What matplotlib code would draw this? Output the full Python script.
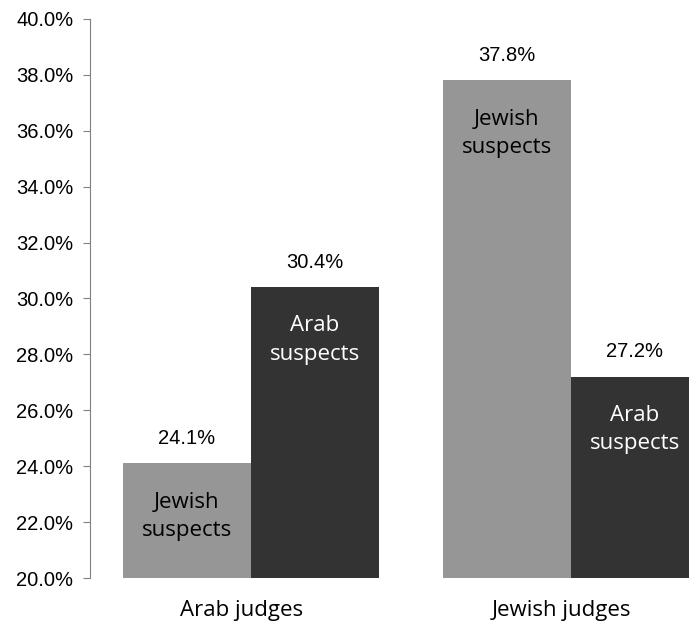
import matplotlib.pyplot as plt
import numpy as np

groups = ['Arab judges', 'Jewish judges']
jewish_suspects = [24.1, 37.8]
arab_suspects = [30.4, 27.2]
series_names = ['Jewish\nsuspects', 'Arab\nsuspects']
yticks = [20, 22, 24, 26, 28, 30, 32, 34, 36, 38, 40]

fig = plt.figure(figsize=(6.89, 6.35), dpi=100)
ax = fig.add_axes([90/689, 57/635, 599/689, 559/635])

x = np.arange(len(groups))
w = 0.4
b1 = ax.bar(x - w/2, np.array(jewish_suspects) - 20, w, bottom=20, color='#969696')
b2 = ax.bar(x + w/2, np.array(arab_suspects) - 20, w, bottom=20, color='#333333')

for bars, vals, name, tc in [(b1, jewish_suspects, series_names[0], 'black'),
                             (b2, arab_suspects, series_names[1], 'white')]:
  for r, v in zip(bars, vals):
    cx = r.get_x() + r.get_width()/2
    ax.annotate('%.1f%%' % v, (cx, v), xytext=(0, 18), textcoords='offset points',
                ha='center', va='center', fontsize=14.5, family='Liberation Sans')
    ax.annotate(name, (cx, v), xytext=(0, -38), textcoords='offset points',
                ha='center', va='center', fontsize=16, color=tc, family='Open Sans',
                linespacing=1.45)

ax.set_xlim(-0.503, 1.369)
ax.set_ylim(20, 40)
ax.set_yticks(yticks)
ax.set_yticklabels(['%.1f%%' % t for t in yticks], fontsize=14.5, family='Liberation Sans')
ax.set_xticks(x - 0.03)
ax.set_xticklabels(groups, fontsize=16, family='Open Sans')
ax.tick_params(axis='x', length=0, pad=16)
ax.tick_params(axis='y', length=5, color='#808080', pad=7)
for s in ['top', 'right', 'bottom']:
  ax.spines[s].set_visible(False)
ax.spines['left'].set_color('#808080')

fig.savefig('out.png', dpi=100)
